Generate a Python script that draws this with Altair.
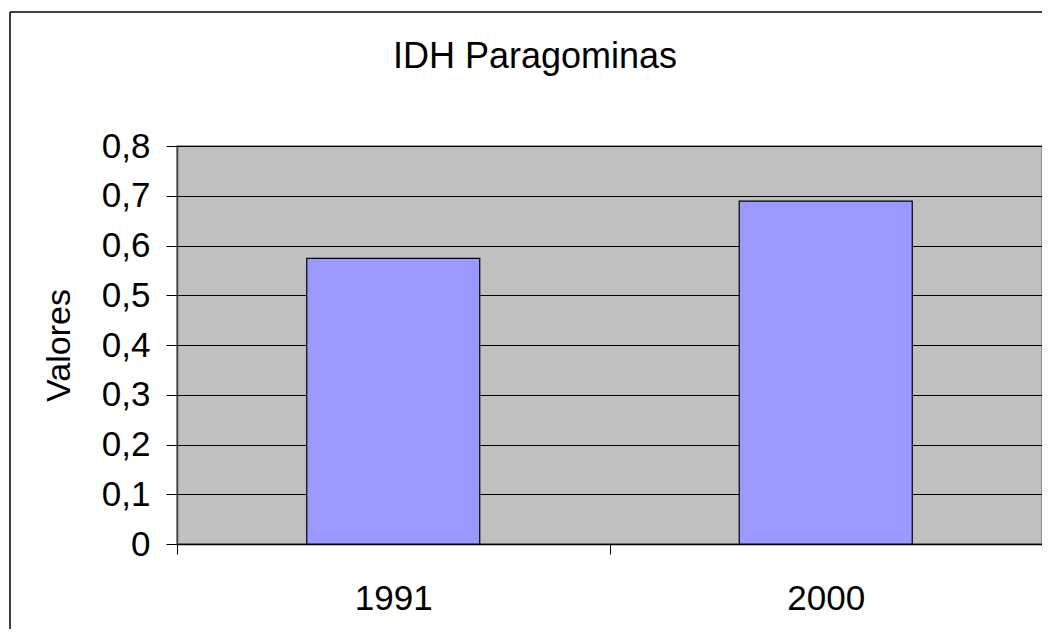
import altair as alt
import pandas as pd

anos = ["1991", "2000"]
valores = [0.574, 0.689]
titulo = "IDH Paragominas"
eixo_y = "Valores"
y_ticks = [0, 0.1, 0.2, 0.3, 0.4, 0.5, 0.6, 0.7, 0.8]

df = pd.DataFrame({"Ano": anos, "Valor": valores})

FONT = "Liberation Sans"
W, H = 865, 398

bars = alt.Chart(df).mark_bar(
    width=alt.RelativeBandSize(0.4),
    color="#9999FF",
    stroke="black",
    strokeWidth=1.2,
).encode(
    x=alt.X(
        "Ano:N",
        title=None,
        sort=anos,
        scale=alt.Scale(paddingInner=0, paddingOuter=0),
        axis=alt.Axis(
            labelAngle=0,
            labelFontSize=35,
            labelFont=FONT,
            labelColor="black",
            labelBaseline="alphabetic",
            labelPadding=55,
            tickBand="extent",
            tickSize=10,
            tickColor="black",
            domainColor="black",
            domainWidth=1.5,
            grid=False,
        ),
    ),
    y=alt.Y(
        "Valor:Q",
        scale=alt.Scale(domain=[0, 0.8], nice=False),
        axis=alt.Axis(
            title=eixo_y,
            values=y_ticks,
            labelExpr="datum.value == 0 ? '0' : replace(format(datum.value, '.1f'), '.', ',')",
            labelFontSize=35,
            labelFont=FONT,
            labelColor="black",
            labelPadding=16,
            tickSize=11,
            tickColor="black",
            domainColor="#404040",
            domainWidth=1.5,
            gridColor="black",
            gridWidth=1,
            titleFont=FONT,
            titleFontSize=34,
            titleFontWeight="normal",
            titleColor="black",
            titleX=-108,
            titleY=H / 2,
            titleAngle=-90,
            titleAlign="center",
            titleBaseline="alphabetic",
        ),
    ),
)

title_text = alt.Chart(alt.Data(values=[{"t": titulo}])).mark_text(
    font=FONT, fontSize=36, color="black", align="center", baseline="alphabetic"
).encode(
    text="t:N",
    x=alt.value(358),
    y=alt.value(-78),
)

frame_top = alt.Chart(alt.Data(values=[{"a": 1}])).mark_rule(
    color="black", strokeWidth=1.5
).encode(
    x=alt.value(-167),
    x2=alt.value(W),
    y=alt.value(-134),
)

frame_left = alt.Chart(alt.Data(values=[{"a": 1}])).mark_rule(
    color="black", strokeWidth=1.5
).encode(
    x=alt.value(-167),
    y=alt.value(-134),
    y2=alt.value(H + 85),
)

chart = alt.layer(frame_top, frame_left, bars, title_text).properties(
    width=W,
    height=H,
    background="white",
    autosize=alt.AutoSizeParams(type="none"),
    padding={"left": 169, "top": 138, "right": 0, "bottom": 85},
).configure_view(
    fill="#C0C0C0",
    stroke="#808080",
    strokeWidth=1.5,
)

chart.save("out.html", embed_options={"renderer": "svg", "actions": False})
